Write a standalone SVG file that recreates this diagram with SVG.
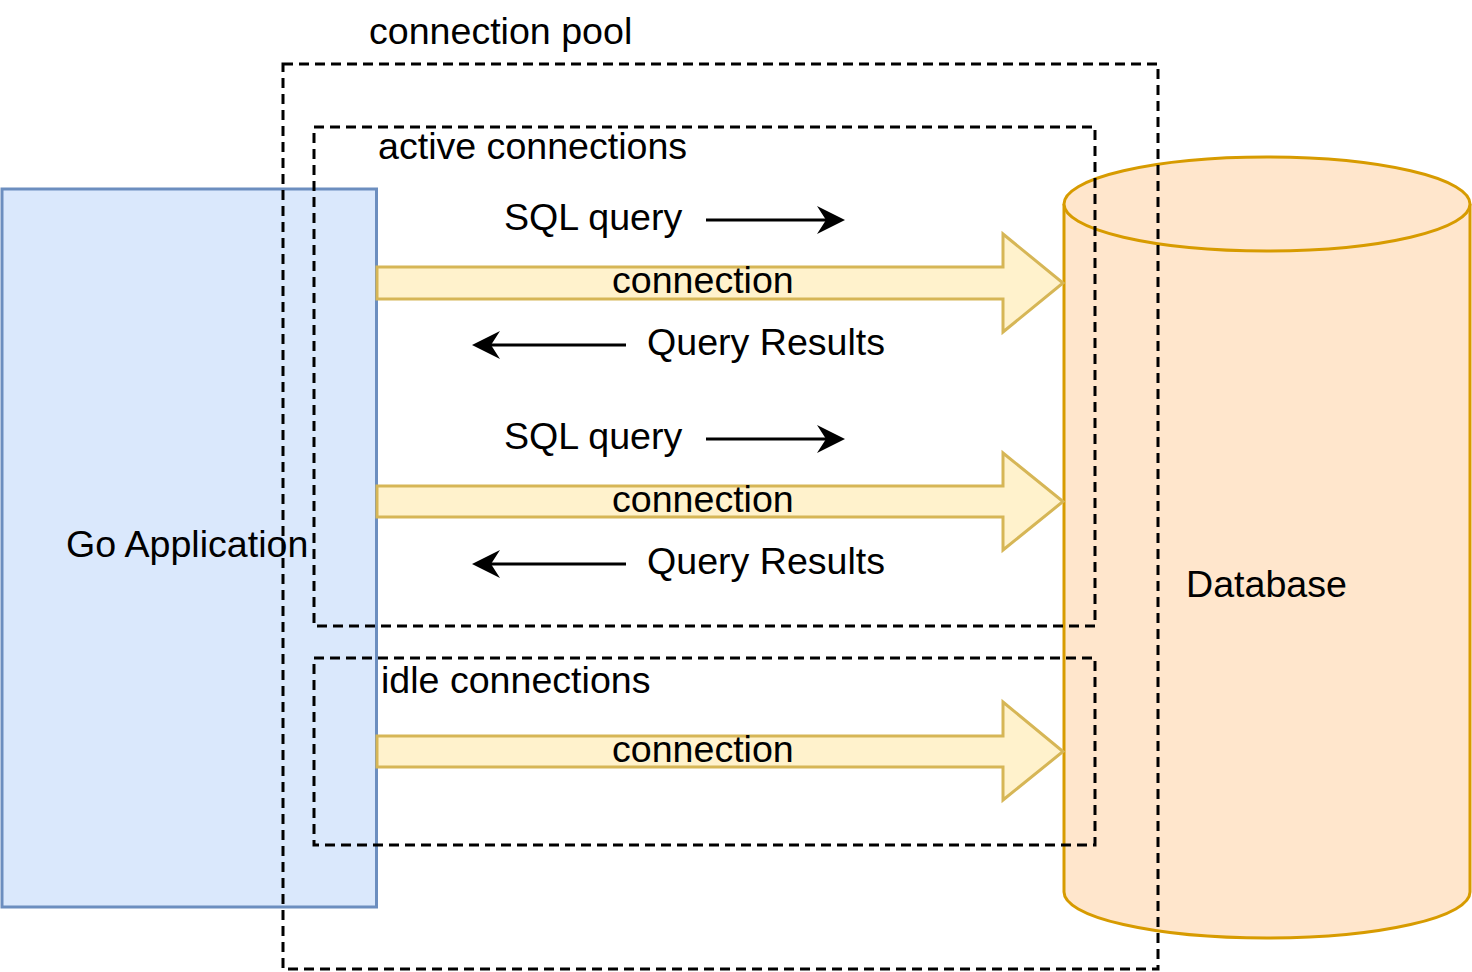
<svg xmlns="http://www.w3.org/2000/svg" width="1472" height="972" viewBox="0 0 1472 972">
<defs>
<style>
text{font-family:"Liberation Sans",Arial,sans-serif;font-size:37.6px;fill:#000}
.app{fill:#dae8fc;stroke:#6c8ebf;stroke-width:3}
.db{fill:#ffe6cc;stroke:#d79b00;stroke-width:3}
.wide{fill:#fff2cc;stroke:#d6b656;stroke-width:3;stroke-linejoin:miter}
.pool{fill:none;stroke:#000;stroke-width:3;stroke-dasharray:10 6}
.flow{fill:none;stroke:#000;stroke-width:3}
</style>
<marker id="ah" viewBox="0 0 28 28" markerWidth="28" markerHeight="28" refX="18" refY="14" orient="auto" markerUnits="userSpaceOnUse">
<path d="M0,0 L28,14 L0,28 L9,14 Z" fill="#000"/>
</marker>
</defs>
<rect width="1472" height="972" fill="#fff"/>
<g id="go-app">
<rect class="app" x="2" y="189" width="374.5" height="718"/>
<text x="66" y="557">Go Application</text>
</g>
<g id="database">
<path class="db" d="M1064,204 A203,47 0 0 1 1470,204 L1470,892 A203,46 0 0 1 1064,892 Z"/>
<path class="db" fill="none" d="M1064,204 A203,47 0 0 0 1470,204"/>
<text x="1186" y="597">Database</text>
</g>
<g id="conn-1">
<polygon class="wide" points="377,267 1003,267 1003,234 1063,283 1003,332 1003,299 377,299"/>
<text x="612" y="293">connection</text>
</g>
<g id="conn-2">
<polygon class="wide" points="377,486 1003,486 1003,453 1063,501.5 1003,550 1003,517 377,517"/>
<text x="612" y="512">connection</text>
</g>
<g id="conn-3">
<polygon class="wide" points="377,736 1003,736 1003,702 1063,751.5 1003,800 1003,767 377,767"/>
<text x="612" y="762">connection</text>
</g>
<g id="connection-pool">
<rect class="pool" x="283" y="64" width="875" height="905"/>
<text x="369" y="44">connection pool</text>
</g>
<g id="active-connections">
<rect class="pool" x="314" y="127" width="781" height="499"/>
<text x="378" y="159">active connections</text>
</g>
<g id="idle-connections">
<rect class="pool" x="314" y="658" width="781" height="187"/>
<text x="381" y="693">idle connections</text>
</g>
<g id="connectors">
<line class="flow" x1="706" y1="220" x2="835" y2="220" marker-end="url(#ah)"/>
<line class="flow" x1="626" y1="345" x2="482" y2="345" marker-end="url(#ah)"/>
<line class="flow" x1="706" y1="439" x2="835" y2="439" marker-end="url(#ah)"/>
<line class="flow" x1="626" y1="564" x2="482" y2="564" marker-end="url(#ah)"/>
<text x="504" y="230">SQL query</text>
<text x="647" y="355">Query Results</text>
<text x="504" y="449">SQL query</text>
<text x="647" y="574">Query Results</text>
</g>
</svg>
